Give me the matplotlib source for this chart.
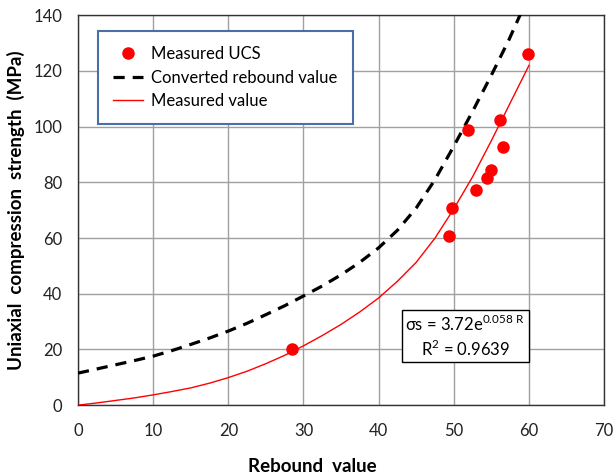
import matplotlib
matplotlib.use('Agg')
import matplotlib.pyplot as plt

plt.rcParams['font.family'] = ['Lato', 'DejaVu Sans']
plt.rcParams['mathtext.fontset'] = 'custom'
plt.rcParams['mathtext.rm'] = 'Lato'

# 实测点
ucs_x = [28.5, 49.3, 49.8, 51.9, 53.0, 54.4, 54.9, 56.2, 56.5, 59.9]
ucs_y = [20.1, 60.7, 70.7, 98.7, 77.2, 81.5, 84.4, 102.3, 92.6, 126.0]

# 回弹换算曲线
conv_x = [0, 2.5, 5, 7.5, 10, 12.5, 15, 17.5, 20, 22.5, 25, 27.5, 30, 32.5, 35,
          37.5, 40, 42.5, 45, 47.5, 50, 52.5, 55, 57.3, 58.9]
conv_y = [11.5, 13.0, 14.5, 16.0, 17.6, 19.6, 21.8, 24.1, 26.6, 29.4, 32.5, 35.7, 39.2, 42.8, 46.8,
          51.3, 56.5, 62.8, 70.8, 81.0, 93.0, 105.5, 118.5, 131.0, 140.6]

fit_x = [0, 2.5, 5, 7.5, 10, 12.5, 15, 17.5, 20, 22.5, 25, 27.5, 30, 32.5, 35,
         37.5, 40, 42.5, 45, 47.5, 50, 52.5, 55, 57.5, 60]
fit_y = [0, 0.8, 1.7, 2.6, 3.7, 4.9, 6.2, 7.9, 9.9, 12.2, 14.9, 17.9, 21.3, 25.0, 29.0,
         33.5, 38.5, 44.5, 51.3, 60.0, 70.5, 82.0, 95.0, 108.5, 122.0]

fig = plt.figure(figsize=(6.14, 4.75), dpi=100)
ax = fig.add_axes([0.127, 0.147, 0.857, 0.821])

ax.plot(ucs_x, ucs_y, 'o', color='#ff0000', markersize=8, label='Measured UCS', zorder=4)
ax.plot(conv_x, conv_y, '--', color='black', lw=2.3, dashes=(3.5, 2.5),
        label='Converted rebound value', zorder=3)
ax.plot(fit_x, fit_y, '-', color='#ff0000', lw=1, label='Measured value', zorder=3)

ax.set_xlim(0, 70)
ax.set_ylim(0, 140)
ax.set_xticks(range(0, 71, 10))
ax.set_yticks(range(0, 141, 20))
ax.grid(True, color='#a0a0a0', lw=1)
ax.set_axisbelow(True)
ax.tick_params(length=0, labelsize=12, colors='#222222')
ax.tick_params(axis='x', pad=13)
ax.tick_params(axis='y', pad=11.5)
for s in ax.spines.values():
    s.set_color('#333333')
    s.set_linewidth(1)

ax.set_xlabel('Rebound  value', fontsize=13.5, fontweight='bold')
ax.xaxis.set_label_coords(0.445, -0.135)
ax.set_ylabel('Uniaxial  compression  strength  (MPa)', fontsize=13.5, fontweight='bold', labelpad=6)

leg = ax.legend(loc='upper left', bbox_to_anchor=(0.038, 0.959), fontsize=12,
                frameon=True, fancybox=False, borderpad=0.9, labelspacing=0.45,
                handlelength=1.8, handletextpad=0.5, borderaxespad=0)
leg.get_frame().set_edgecolor('#4a6fa5')
leg.get_frame().set_linewidth(1.5)
leg.get_frame().set_alpha(1)

ax.text(0.736, 0.177, 'σs = 3.72e$^{0.058\\ \\mathrm{R}}$\nR$^2$ = 0.9639', transform=ax.transAxes,
        ha='center', va='center', fontsize=12, linespacing=1.3, multialignment='center',
        bbox=dict(boxstyle='square,pad=0.2', facecolor='white', edgecolor='black', lw=1))

fig.savefig('out.png', dpi=100)
